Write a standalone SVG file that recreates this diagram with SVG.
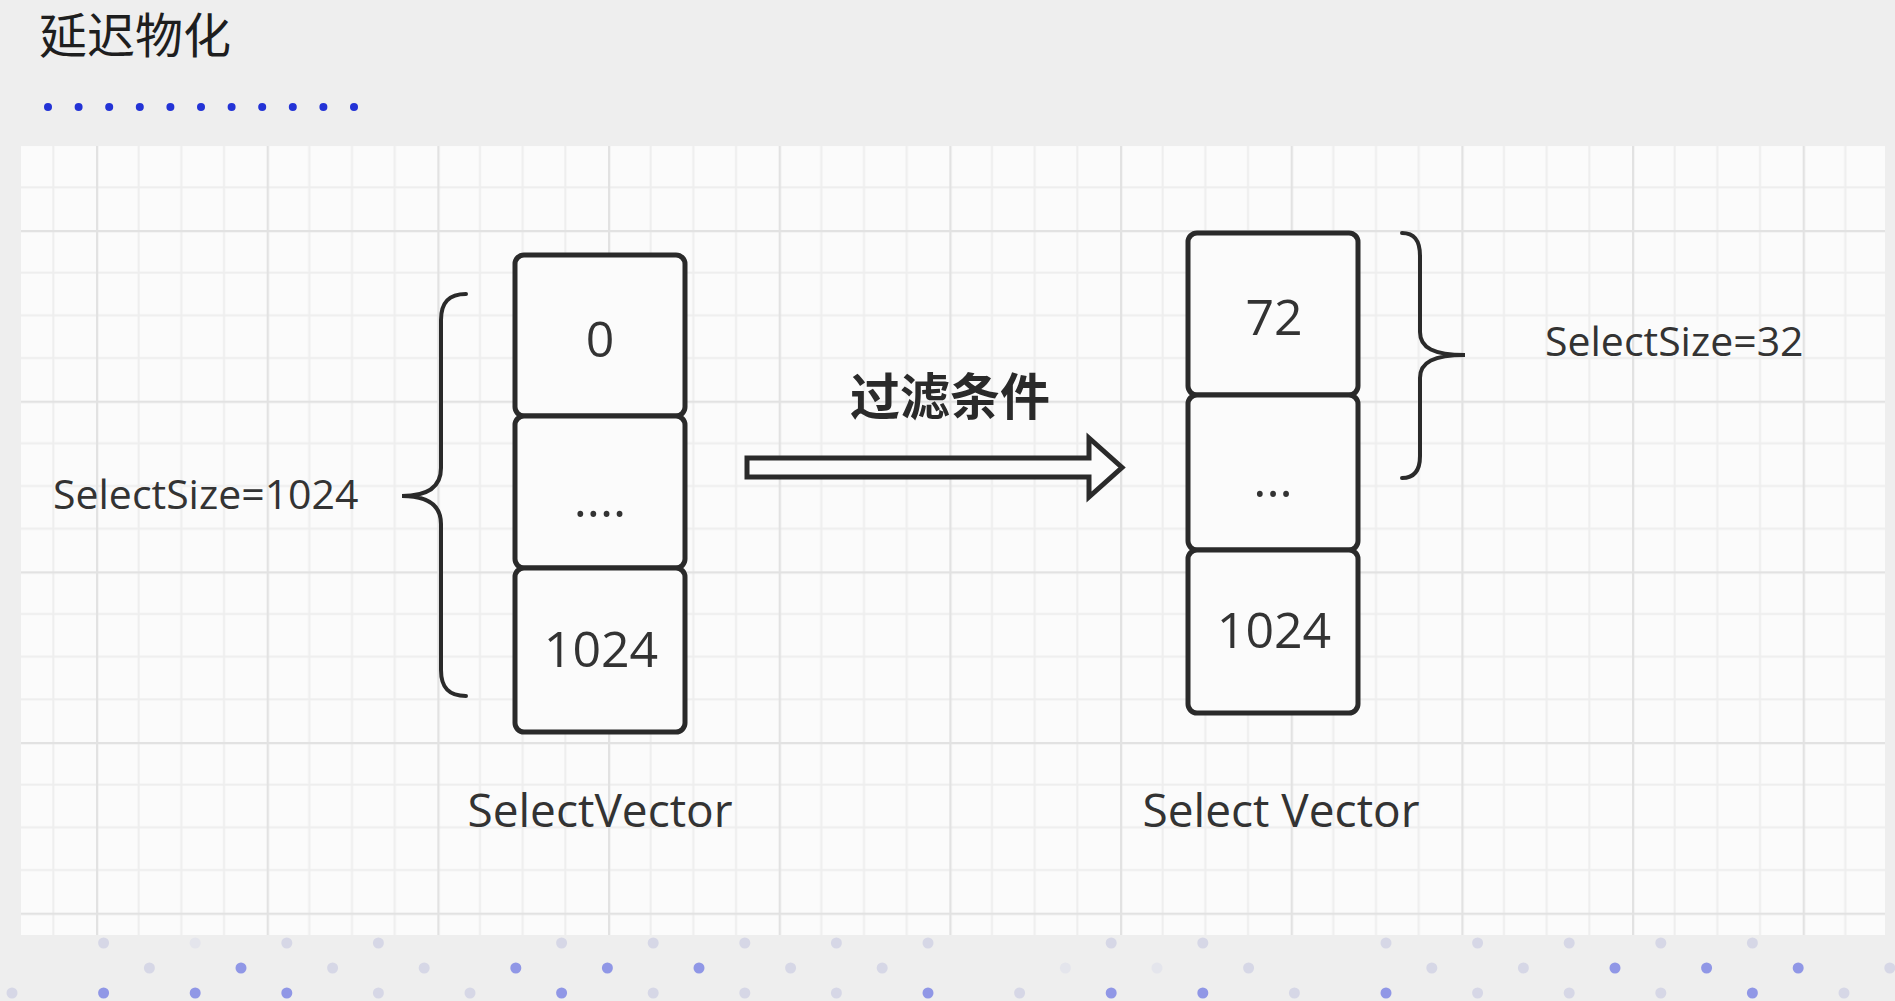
<svg xmlns="http://www.w3.org/2000/svg" width="1895" height="1001" viewBox="0 0 1895 1001">
<defs>
<style>
.cell{fill:#fbfbfb;stroke:#2a2a2a;stroke-width:5}
.brace{fill:none;stroke:#2a2a2a;stroke-width:4;stroke-linecap:round}
.lat{font-family:"Open Sans","Noto Sans","Liberation Sans",sans-serif;fill:#333333}
.num{font-size:50px;text-anchor:middle}
.lbl{font-size:41px}
.cap{font-size:46px;text-anchor:middle}
.cjk{font-family:"Noto Sans CJK SC","Noto Sans CJK JP",sans-serif}
.td{fill:#2333d6}
.b{fill:#9097e6}
.f{fill:#d6d7e6}
.v{fill:#e4e5ec}
</style>
<pattern id="grid" x="96" y="230" width="170.667" height="170.667" patternUnits="userSpaceOnUse">
<rect width="170.667" height="170.667" fill="#fbfbfb"/>
<path d="M42.667 0V170.667M85.333 0V170.667M128 0V170.667M0 42.667H170.667M0 85.333H170.667M0 128H170.667" stroke="#eeeeee" stroke-width="2" fill="none"/>
<path d="M1 0V170.667M0 1H170.667" stroke="#e2e2e2" stroke-width="2.5" fill="none"/>
</pattern>
</defs>
<rect width="1895" height="1001" fill="#eeeeee"/>
<g id="title">
<text class="cjk" x="39" y="53" font-size="48" fill="#1e1e1e">延迟物化</text>
<g>
<circle class="td" cx="48" cy="107" r="4"/><circle class="td" cx="78.6" cy="107" r="4"/><circle class="td" cx="109.2" cy="107" r="4"/><circle class="td" cx="139.8" cy="107" r="4"/><circle class="td" cx="170.4" cy="107" r="4"/><circle class="td" cx="201" cy="107" r="4"/><circle class="td" cx="231.6" cy="107" r="4"/><circle class="td" cx="262.2" cy="107" r="4"/><circle class="td" cx="292.8" cy="107" r="4"/><circle class="td" cx="323.4" cy="107" r="4"/><circle class="td" cx="354" cy="107" r="4"/>
</g>
</g>
<rect id="canvas" x="21" y="146" width="1864" height="789" fill="url(#grid)"/>
<g id="bottom-dots">
<circle class="f" cx="103.6" cy="943" r="5.5"/><circle class="v" cx="195.2" cy="943" r="5.5"/><circle class="f" cx="286.8" cy="943" r="5.5"/><circle class="f" cx="378.4" cy="943" r="5.5"/><circle class="f" cx="561.6" cy="943" r="5.5"/><circle class="f" cx="653.2" cy="943" r="5.5"/><circle class="f" cx="744.8" cy="943" r="5.5"/><circle class="f" cx="836.4" cy="943" r="5.5"/><circle class="f" cx="928" cy="943" r="5.5"/><circle class="f" cx="1111.2" cy="943" r="5.5"/><circle class="f" cx="1202.8" cy="943" r="5.5"/><circle class="f" cx="1386" cy="943" r="5.5"/><circle class="f" cx="1477.6" cy="943" r="5.5"/><circle class="f" cx="1569.2" cy="943" r="5.5"/><circle class="f" cx="1660.8" cy="943" r="5.5"/><circle class="f" cx="1752.4" cy="943" r="5.5"/>
<circle class="f" cx="149.4" cy="968" r="5.5"/><circle class="b" cx="241" cy="968" r="5.5"/><circle class="f" cx="332.6" cy="968" r="5.5"/><circle class="f" cx="424.2" cy="968" r="5.5"/><circle class="b" cx="515.8" cy="968" r="5.5"/><circle class="b" cx="607.4" cy="968" r="5.5"/><circle class="b" cx="699" cy="968" r="5.5"/><circle class="f" cx="790.6" cy="968" r="5.5"/><circle class="f" cx="882.2" cy="968" r="5.5"/><circle class="v" cx="1065.4" cy="968" r="5.5"/><circle class="v" cx="1157" cy="968" r="5.5"/><circle class="f" cx="1248.6" cy="968" r="5.5"/><circle class="f" cx="1431.8" cy="968" r="5.5"/><circle class="f" cx="1523.4" cy="968" r="5.5"/><circle class="b" cx="1615" cy="968" r="5.5"/><circle class="b" cx="1706.6" cy="968" r="5.5"/><circle class="b" cx="1798.2" cy="968" r="5.5"/><circle class="f" cx="1889.8" cy="968" r="5.5"/>
<circle class="f" cx="12" cy="993" r="5.5"/><circle class="b" cx="103.6" cy="993" r="5.5"/><circle class="b" cx="195.2" cy="993" r="5.5"/><circle class="b" cx="286.8" cy="993" r="5.5"/><circle class="f" cx="378.4" cy="993" r="5.5"/><circle class="f" cx="470" cy="993" r="5.5"/><circle class="b" cx="561.6" cy="993" r="5.5"/><circle class="f" cx="653.2" cy="993" r="5.5"/><circle class="f" cx="744.8" cy="993" r="5.5"/><circle class="f" cx="836.4" cy="993" r="5.5"/><circle class="b" cx="928" cy="993" r="5.5"/><circle class="f" cx="1019.6" cy="993" r="5.5"/><circle class="b" cx="1111.2" cy="993" r="5.5"/><circle class="b" cx="1202.8" cy="993" r="5.5"/><circle class="f" cx="1294.4" cy="993" r="5.5"/><circle class="b" cx="1386" cy="993" r="5.5"/><circle class="f" cx="1477.6" cy="993" r="5.5"/><circle class="f" cx="1569.2" cy="993" r="5.5"/><circle class="f" cx="1660.8" cy="993" r="5.5"/><circle class="b" cx="1752.4" cy="993" r="5.5"/><circle class="f" cx="1844" cy="993" r="5.5"/>
</g>
<g id="left-vector">
<rect class="cell" x="515" y="255" width="170" height="161" rx="9"/>
<rect class="cell" x="515" y="416" width="170" height="152" rx="9"/>
<rect class="cell" x="515" y="568" width="170" height="164" rx="9"/>
<text class="lat num" x="600" y="357">0</text>
<text class="lat num" x="600" y="517">....</text>
<text class="lat num" x="601" y="667">1024</text>
<text class="lat cap" x="600" y="827">SelectVector</text>
</g>
<g id="left-brace">
<path class="brace" d="M466,294 C449,294 441,302 441,320 L441,468 C441,487 428,496 402,496 C428,496 441,505 441,524 L441,670 C441,688 449,696 466,696"/>
<text class="lat lbl" x="53" y="509">SelectSize=1024</text>
</g>
<g id="right-vector">
<rect class="cell" x="1188" y="233" width="170" height="162" rx="9"/>
<rect class="cell" x="1188" y="395" width="170" height="155" rx="9"/>
<rect class="cell" x="1188" y="550" width="170" height="163" rx="9"/>
<text class="lat num" x="1274" y="335">72</text>
<text class="lat num" x="1273" y="497">...</text>
<text class="lat num" x="1274" y="648">1024</text>
<text class="lat cap" x="1281" y="827">Select Vector</text>
</g>
<g id="right-brace">
<path class="brace" d="M1402,233 C1414,233 1420,240 1420,256 L1420,332 C1420,348 1434,355 1465,355 C1434,355 1420,362 1420,378 L1420,456 C1420,471 1414,478 1402,478"/>
<text class="lat lbl" x="1545" y="356" font-size="41.5">SelectSize=32</text>
</g>
<g id="connectors">
<g id="filter-arrow">
<path d="M747,458 L1089,458 L1089,438 L1122,467.5 L1089,497 L1089,477 L747,477 Z" fill="#fbfbfb" stroke="#2a2a2a" stroke-width="5" stroke-linejoin="miter"/>
<text class="cjk" x="950" y="415" font-size="50" font-weight="bold" text-anchor="middle" fill="#2a2a2a">过滤条件</text>
</g>
</g>
</svg>
